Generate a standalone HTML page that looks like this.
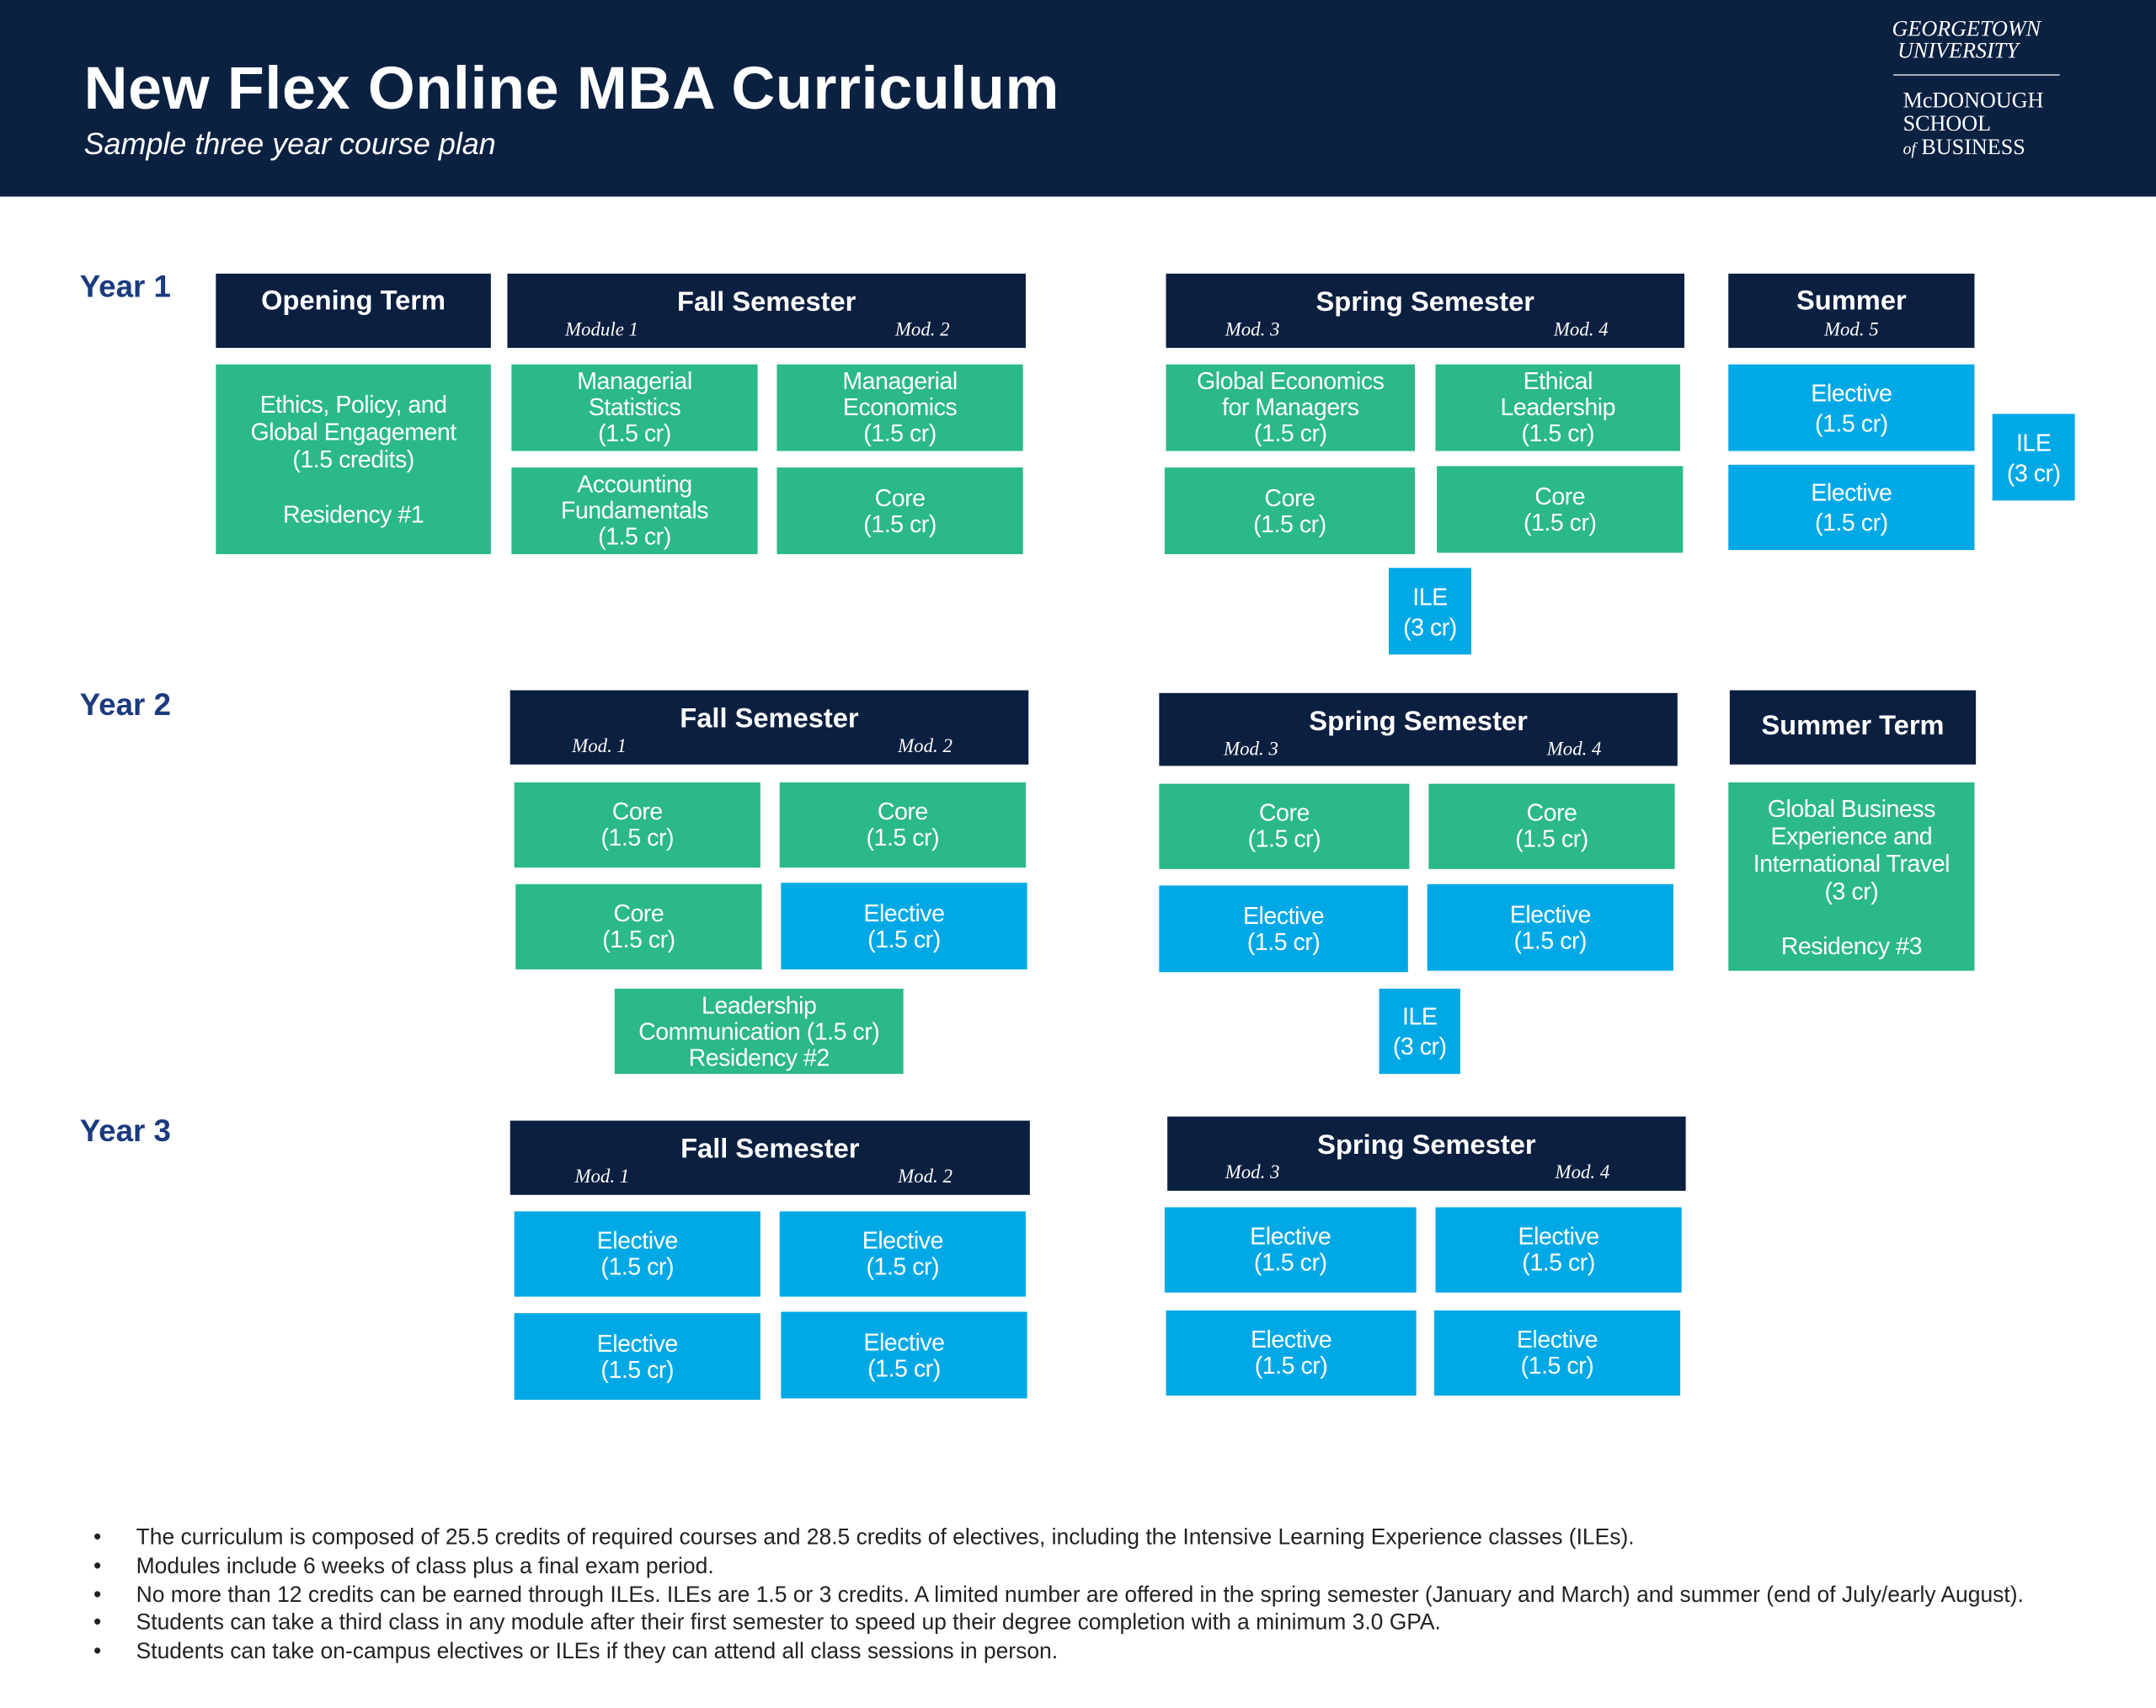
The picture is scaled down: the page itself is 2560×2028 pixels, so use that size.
<!DOCTYPE html>
<html><head><meta charset="utf-8">
<style>
html,body{margin:0;padding:0;background:#fff;}
body{width:2560px;height:2027px;overflow:hidden;position:relative;}
#w{position:absolute;left:0;top:0;width:1568px;height:1242px;transform:scale(1.63265);transform-origin:0 0;font-family:"Liberation Sans",sans-serif;}
.a{position:absolute;box-sizing:border-box;}
.h{background:#0b1f40;color:#fff;}
.h .t{position:absolute;left:0;right:0;top:10px;text-align:center;font-weight:bold;font-size:20px;}
.h .m{position:absolute;top:34px;font-family:"Liberation Serif",serif;font-style:italic;font-size:14px;}
.g,.b{color:#fff;display:flex;align-items:center;justify-content:center;text-align:center;font-size:17.5px;line-height:19px;letter-spacing:-0.3px;}
.g{background:#2bb88a;}
.b{background:#00a9e6;}
.y{position:absolute;left:58px;color:#1c3b7e;font-weight:bold;font-size:22.5px;}
.bl{position:absolute;left:99px;font-size:16.2px;color:#222;white-space:nowrap;}
.bl:before{content:"•";position:absolute;left:-31px;}
</style></head><body><div id="w">
<div class="a" style="left:0;top:0;width:1568px;height:143px;background:#0b2142;"></div>
<div class="a" style="left:61px;top:40px;color:#fff;font-weight:bold;font-size:44px;letter-spacing:0.4px;">New Flex Online MBA Curriculum</div>
<div class="a" style="left:61px;top:92px;color:#fff;font-style:italic;font-size:22px;">Sample three year course plan</div>
<div class="a" style="left:1376px;top:14px;color:#fff;font-family:'Liberation Serif',serif;font-style:italic;font-size:16px;line-height:16px;">GEORGETOWN<br>&nbsp;UNIVERSITY</div>
<div class="a" style="left:1377px;top:54px;width:121px;height:1px;background:#c8ccd4;"></div>
<div class="a" style="left:1384px;top:65px;color:#fff;font-family:'Liberation Serif',serif;font-size:16px;line-height:17px;">McDONOUGH<br>SCHOOL<br><i style="font-size:12px">of</i> BUSINESS</div>

<div class="y" style="top:196px;">Year 1</div>
<div class="y" style="top:500px;">Year 2</div>
<div class="y" style="top:810px;">Year 3</div>

<div class="a h" style="left:157px;top:199px;width:200px;height:54px;"><div class="t" style="top:9px">Opening Term</div></div>
<div class="a h" style="left:369px;top:199px;width:377px;height:54px;"><div class="t">Fall Semester</div><div class="m" style="left:42px">Module 1</div><div class="m" style="left:282px">Mod. 2</div></div>
<div class="a h" style="left:848px;top:199px;width:377px;height:54px;"><div class="t">Spring Semester</div><div class="m" style="left:43px">Mod. 3</div><div class="m" style="left:282px">Mod. 4</div></div>
<div class="a h" style="left:1257px;top:199px;width:179px;height:54px;"><div class="t" style="top:9px">Summer</div><div class="m" style="left:0;right:0;text-align:center">Mod. 5</div></div>

<div class="a g" style="left:157px;top:265px;width:200px;height:138px;line-height:20px;">Ethics, Policy, and<br>Global Engagement<br>(1.5 credits)<br><br>Residency #1</div>
<div class="a g" style="left:372px;top:265px;width:179px;height:63px;">Managerial<br>Statistics<br>(1.5 cr)</div>
<div class="a g" style="left:565px;top:265px;width:179px;height:63px;">Managerial<br>Economics<br>(1.5 cr)</div>
<div class="a g" style="left:372px;top:340px;width:179px;height:63px;">Accounting<br>Fundamentals<br>(1.5 cr)</div>
<div class="a g" style="left:565px;top:340px;width:179px;height:63px;">Core<br>(1.5 cr)</div>
<div class="a g" style="left:848px;top:265px;width:181px;height:63px;">Global Economics<br>for Managers<br>(1.5 cr)</div>
<div class="a g" style="left:1044px;top:265px;width:178px;height:63px;">Ethical<br>Leadership<br>(1.5 cr)</div>
<div class="a g" style="left:847px;top:340px;width:182px;height:63px;">Core<br>(1.5 cr)</div>
<div class="a g" style="left:1045px;top:339px;width:179px;height:63px;">Core<br>(1.5 cr)</div>
<div class="a b" style="left:1010px;top:413px;width:60px;height:63px;line-height:22px;">ILE<br>(3 cr)</div>
<div class="a b" style="left:1257px;top:265px;width:179px;height:63px;line-height:22px;">Elective<br>(1.5 cr)</div>
<div class="a b" style="left:1257px;top:338px;width:179px;height:62px;line-height:22px;">Elective<br>(1.5 cr)</div>
<div class="a b" style="left:1449px;top:301px;width:60px;height:63px;line-height:22px;">ILE<br>(3 cr)</div>

<div class="a h" style="left:371px;top:502px;width:377px;height:54px;"><div class="t">Fall Semester</div><div class="m" style="left:45px">Mod. 1</div><div class="m" style="left:282px">Mod. 2</div></div>
<div class="a h" style="left:843px;top:504px;width:377px;height:53px;"><div class="t">Spring Semester</div><div class="m" style="left:47px">Mod. 3</div><div class="m" style="left:282px">Mod. 4</div></div>
<div class="a h" style="left:1258px;top:502px;width:179px;height:54px;"><div class="t" style="top:15px">Summer Term</div></div>

<div class="a g" style="left:374px;top:569px;width:179px;height:62px;">Core<br>(1.5 cr)</div>
<div class="a g" style="left:567px;top:569px;width:179px;height:62px;">Core<br>(1.5 cr)</div>
<div class="a g" style="left:375px;top:643px;width:179px;height:62px;">Core<br>(1.5 cr)</div>
<div class="a b" style="left:568px;top:642px;width:179px;height:63px;">Elective<br>(1.5 cr)</div>
<div class="a g" style="left:843px;top:570px;width:182px;height:62px;">Core<br>(1.5 cr)</div>
<div class="a g" style="left:1039px;top:570px;width:179px;height:62px;">Core<br>(1.5 cr)</div>
<div class="a b" style="left:843px;top:644px;width:181px;height:63px;">Elective<br>(1.5 cr)</div>
<div class="a b" style="left:1038px;top:643px;width:179px;height:63px;">Elective<br>(1.5 cr)</div>
<div class="a g" style="left:447px;top:719px;width:210px;height:62px;">Leadership<br>Communication (1.5 cr)<br>Residency #2</div>
<div class="a b" style="left:1003px;top:719px;width:59px;height:62px;line-height:22px;">ILE<br>(3 cr)</div>
<div class="a g" style="left:1257px;top:569px;width:179px;height:137px;line-height:20px;">Global Business<br>Experience and<br>International Travel<br>(3 cr)<br><br>Residency #3</div>

<div class="a h" style="left:371px;top:815px;width:378px;height:54px;"><div class="t">Fall Semester</div><div class="m" style="left:47px">Mod. 1</div><div class="m" style="left:282px">Mod. 2</div></div>
<div class="a h" style="left:849px;top:812px;width:377px;height:54px;"><div class="t">Spring Semester</div><div class="m" style="left:42px">Mod. 3</div><div class="m" style="left:282px">Mod. 4</div></div>
<div class="a b" style="left:374px;top:881px;width:179px;height:62px;">Elective<br>(1.5 cr)</div>
<div class="a b" style="left:567px;top:881px;width:179px;height:62px;">Elective<br>(1.5 cr)</div>
<div class="a b" style="left:374px;top:955px;width:179px;height:63px;">Elective<br>(1.5 cr)</div>
<div class="a b" style="left:568px;top:954px;width:179px;height:63px;">Elective<br>(1.5 cr)</div>
<div class="a b" style="left:847px;top:878px;width:183px;height:62px;">Elective<br>(1.5 cr)</div>
<div class="a b" style="left:1044px;top:878px;width:179px;height:62px;">Elective<br>(1.5 cr)</div>
<div class="a b" style="left:848px;top:953px;width:182px;height:62px;">Elective<br>(1.5 cr)</div>
<div class="a b" style="left:1043px;top:953px;width:179px;height:62px;">Elective<br>(1.5 cr)</div>

<div class="bl" style="top:1109px;">The curriculum is composed of 25.5 credits of required courses and 28.5 credits of electives, including the Intensive Learning Experience classes (ILEs).</div>
<div class="bl" style="top:1130px;">Modules include 6 weeks of class plus a final exam period.</div>
<div class="bl" style="top:1151px;">No more than 12 credits can be earned through ILEs. ILEs are 1.5 or 3 credits. A limited number are offered in the spring semester (January and March) and summer (end of July/early August).</div>
<div class="bl" style="top:1171px;">Students can take a third class in any module after their first semester to speed up their degree completion with a minimum 3.0 GPA.</div>
<div class="bl" style="top:1192px;">Students can take on-campus electives or ILEs if they can attend all class sessions in person.</div>
</div></body></html>
